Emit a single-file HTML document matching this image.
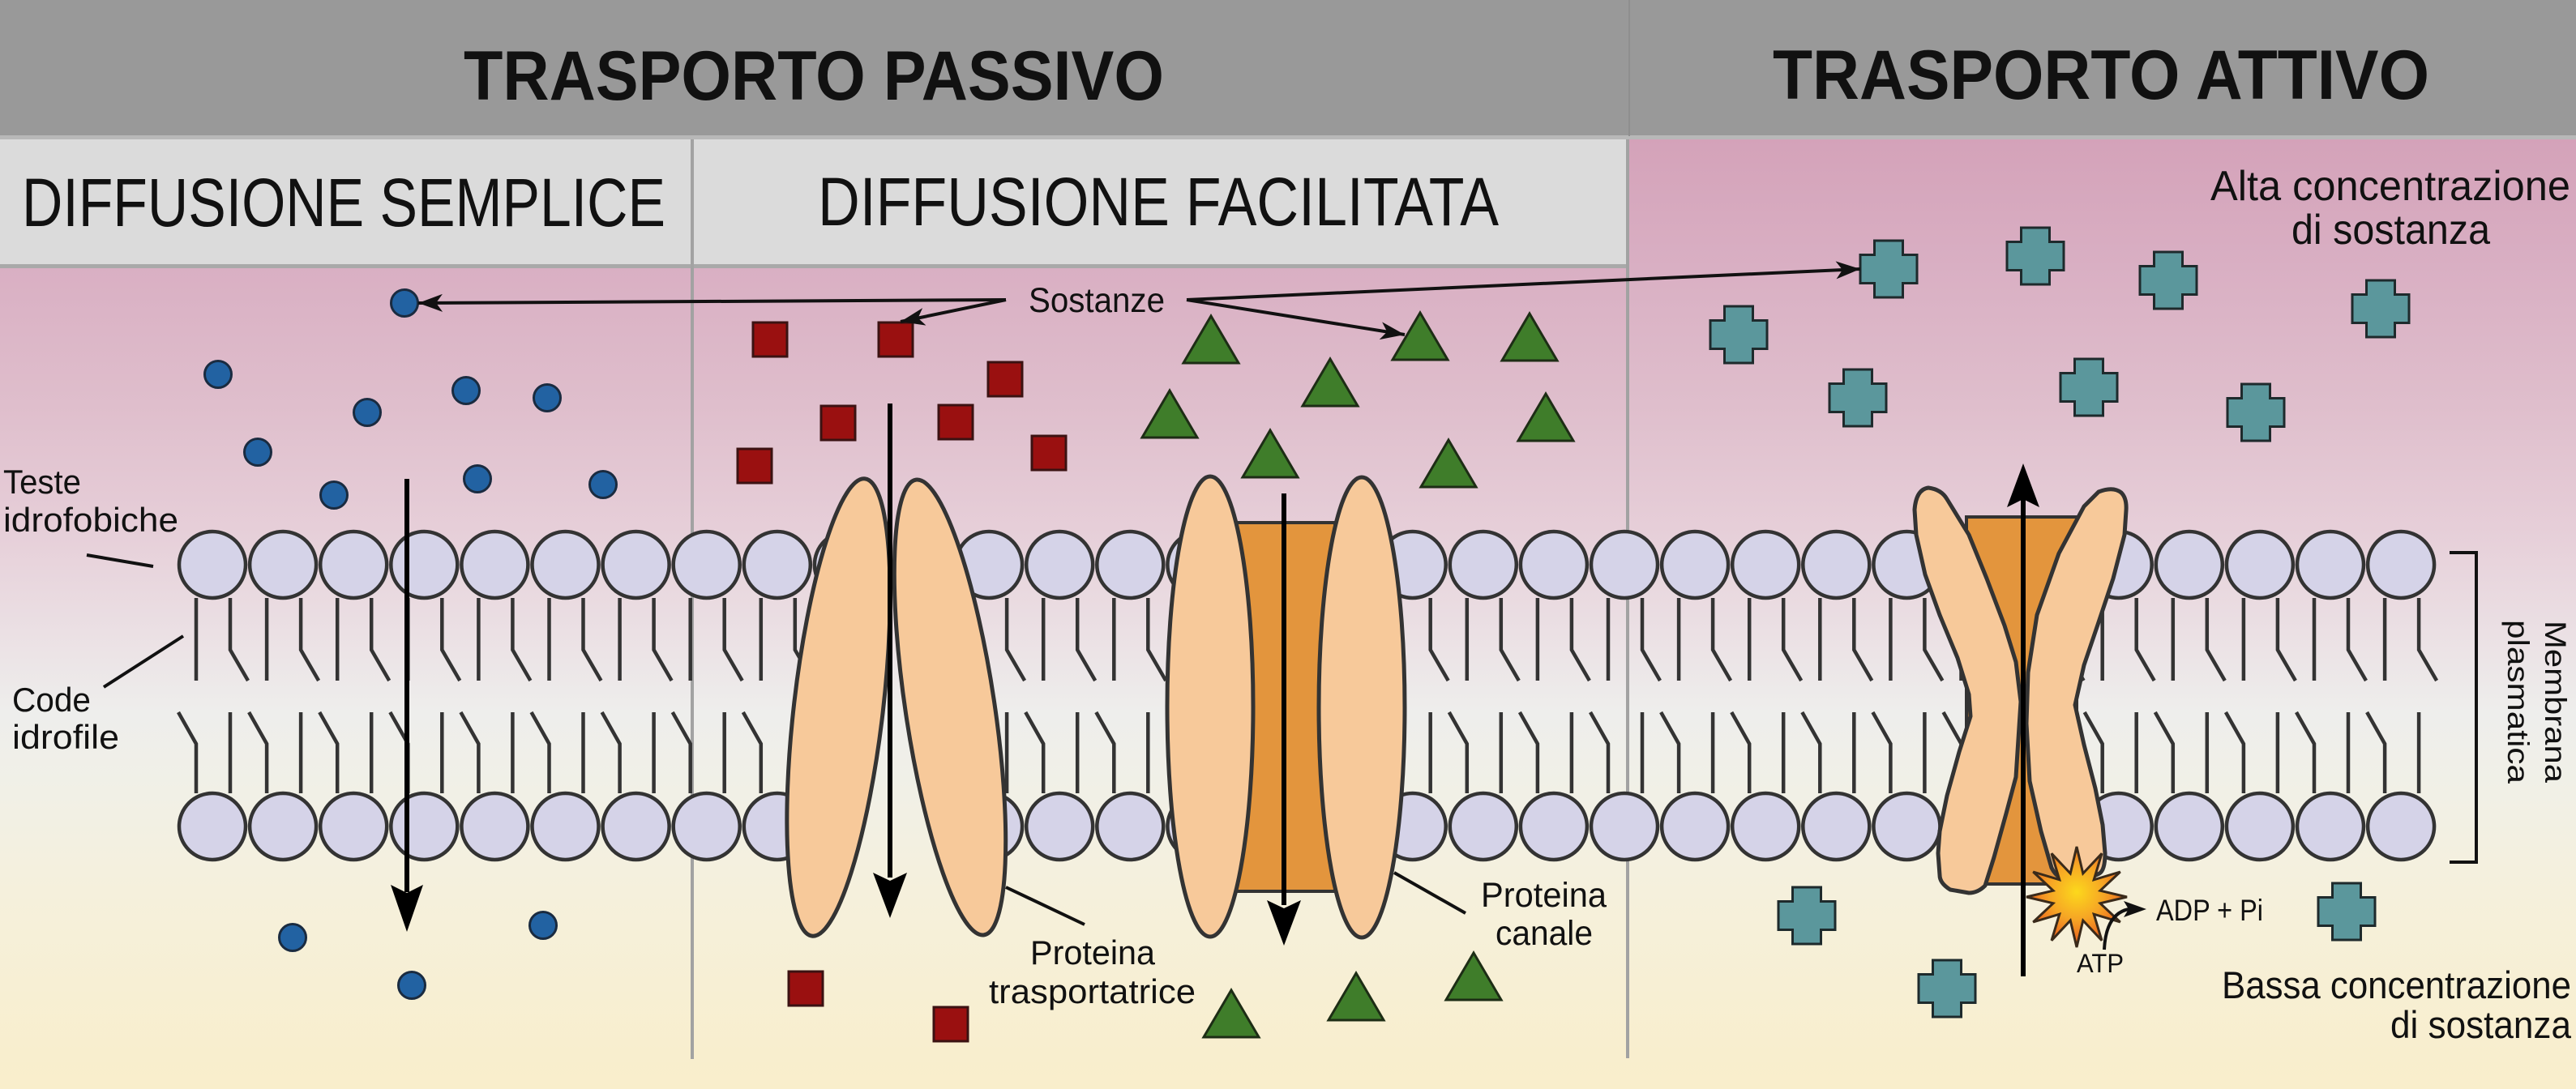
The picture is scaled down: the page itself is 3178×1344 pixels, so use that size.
<!DOCTYPE html>
<html><head><meta charset="utf-8">
<style>
html,body{margin:0;padding:0;width:3178px;height:1344px;overflow:hidden;background:#f5f0dc}
svg{display:block}
text{font-family:"Liberation Sans",sans-serif;fill:#111}
</style></head><body>
<svg width="3178" height="1344" viewBox="0 0 3178 1344" xmlns="http://www.w3.org/2000/svg">
<defs>
<linearGradient id="bg" x1="0" y1="170" x2="0" y2="1344" gradientUnits="userSpaceOnUse">
<stop offset="0" stop-color="#d4a2b9"/>
<stop offset="0.136" stop-color="#d9afc3"/>
<stop offset="0.281" stop-color="#dfbecc"/>
<stop offset="0.409" stop-color="#e6ced8"/>
<stop offset="0.52" stop-color="#ebe0e4"/>
<stop offset="0.605" stop-color="#eeeeec"/>
<stop offset="0.69" stop-color="#f1f0e6"/>
<stop offset="0.792" stop-color="#f5f0dc"/>
<stop offset="1" stop-color="#f9eecb"/>
</linearGradient>
<radialGradient id="star" cx="0.5" cy="0.45" r="0.55">
<stop offset="0" stop-color="#fcd81c"/>
<stop offset="0.5" stop-color="#f6a525"/>
<stop offset="1" stop-color="#e6541c"/>
</radialGradient>
<marker id="ah" markerWidth="30" markerHeight="22" refX="30" refY="11" orient="auto" markerUnits="userSpaceOnUse"><path d="M0,0 L30,11 L0,22 L8,11 z" fill="#111"/></marker>
<g id="up">
<path d="M-20,738V840 M22,738V802L44,840" stroke="#333" stroke-width="4.5" fill="none"/>
<circle cx="0" cy="697" r="41" fill="#d5d3e8" stroke="#333" stroke-width="4.5"/>
</g>
<g id="lo">
<path d="M-42,879L-20,918V979 M22,879V979" stroke="#333" stroke-width="4.5" fill="none"/>
<circle cx="0" cy="1020" r="41" fill="#d5d3e8" stroke="#333" stroke-width="4.5"/>
</g>
<polygon id="cr" points="-17.5,-35 17.5,-35 17.5,-17.5 35,-17.5 35,17.5 17.5,17.5 17.5,35 -17.5,35 -17.5,17.5 -35,17.5 -35,-17.5 -17.5,-17.5" fill="#5b979c" stroke="#1e2a2c" stroke-width="3"/>
</defs>

<!-- background -->
<rect x="0" y="0" width="3178" height="1344" fill="url(#bg)"/>
<rect x="0" y="0" width="3178" height="168" fill="#999999"/>
<rect x="0" y="167" width="3178" height="5" fill="#b8b8b8"/>
<line x1="2010" y1="0" x2="2010" y2="168" stroke="#8f8f8f" stroke-width="2"/>
<rect x="0" y="172" width="2008" height="156" fill="#dbdbdb"/>
<rect x="0" y="326" width="2008" height="5" fill="#a9a9a9"/>

<!-- dividers -->
<line x1="854" y1="172" x2="854" y2="1307" stroke="#a2a2a2" stroke-width="4"/>
<line x1="2008" y1="172" x2="2008" y2="1306" stroke="#a2a2a2" stroke-width="4"/>

<!-- headers -->
<text x="572" y="123" font-size="86" font-weight="bold" textLength="864" lengthAdjust="spacingAndGlyphs">TRASPORTO PASSIVO</text>
<text x="2187" y="122" font-size="86" font-weight="bold" textLength="810" lengthAdjust="spacingAndGlyphs">TRASPORTO ATTIVO</text>
<text x="27" y="279" font-size="84" textLength="794" lengthAdjust="spacingAndGlyphs">DIFFUSIONE SEMPLICE</text>
<text x="1009" y="278" font-size="84" textLength="840" lengthAdjust="spacingAndGlyphs">DIFFUSIONE FACILITATA</text>

<!-- blue dots -->
<g fill="#2262a2" stroke="#1a2b40" stroke-width="3">
<circle cx="499" cy="374" r="16.5"/><circle cx="269" cy="462" r="16.5"/><circle cx="575" cy="482" r="16.5"/>
<circle cx="675" cy="491" r="16.5"/><circle cx="453" cy="509" r="16.5"/><circle cx="318" cy="558" r="16.5"/>
<circle cx="412" cy="611" r="16.5"/><circle cx="589" cy="591" r="16.5"/><circle cx="744" cy="598" r="16.5"/>
<circle cx="361" cy="1157" r="16.5"/><circle cx="670" cy="1142" r="16.5"/><circle cx="508" cy="1216" r="16.5"/>
</g>

<!-- red squares -->
<g fill="#9a1010" stroke="#3b1212" stroke-width="3">
<rect x="929" y="398" width="42" height="42"/><rect x="1084" y="398" width="42" height="42"/>
<rect x="1219" y="447" width="42" height="42"/><rect x="1013" y="501" width="42" height="42"/>
<rect x="1158" y="500" width="42" height="42"/><rect x="1273" y="538" width="42" height="42"/>
<rect x="910" y="554" width="42" height="42"/><rect x="973" y="1199" width="42" height="42"/>
<rect x="1152" y="1243" width="42" height="42"/>
</g>

<!-- green triangles -->
<g fill="#3f7d2a" stroke="#1d2d15" stroke-width="3" stroke-linejoin="miter">
<polygon points="1460,448 1528,448 1494,390"/>
<polygon points="1718,444 1786,444 1752,386"/>
<polygon points="1853,445 1921,445 1887,387"/>
<polygon points="1607,501 1675,501 1641,443"/>
<polygon points="1409,540 1477,540 1443,482"/>
<polygon points="1873,544 1941,544 1907,486"/>
<polygon points="1533,589 1601,589 1567,531"/>
<polygon points="1753,601 1821,601 1787,543"/>
<polygon points="1485,1280 1553,1280 1519,1222"/>
<polygon points="1639,1259 1707,1259 1673,1201"/>
<polygon points="1784,1234 1852,1234 1818,1176"/>
</g>

<!-- teal crosses -->
<use href="#cr" x="2330" y="332"/><use href="#cr" x="2511" y="316"/><use href="#cr" x="2145" y="413"/>
<use href="#cr" x="2292" y="491"/><use href="#cr" x="2577" y="478"/><use href="#cr" x="2675" y="346"/>
<use href="#cr" x="2937" y="381"/><use href="#cr" x="2783" y="509"/><use href="#cr" x="2229" y="1130"/>
<use href="#cr" x="2402" y="1220"/><use href="#cr" x="2895" y="1125"/>

<!-- membrane lipids -->
<use href="#up" x="262"/><use href="#lo" x="262"/>
<use href="#up" x="349.1"/><use href="#lo" x="349.1"/>
<use href="#up" x="436.2"/><use href="#lo" x="436.2"/>
<use href="#up" x="523.3"/><use href="#lo" x="523.3"/>
<use href="#up" x="610.4"/><use href="#lo" x="610.4"/>
<use href="#up" x="697.5"/><use href="#lo" x="697.5"/>
<use href="#up" x="784.6"/><use href="#lo" x="784.6"/>
<use href="#up" x="871.7"/><use href="#lo" x="871.7"/>
<use href="#up" x="958.8"/><use href="#lo" x="958.8"/>
<use href="#up" x="1045.9"/>
<use href="#up" x="1220.1"/><use href="#lo" x="1220.1"/>
<use href="#up" x="1307.2"/><use href="#lo" x="1307.2"/>
<use href="#up" x="1394.3"/><use href="#lo" x="1394.3"/>
<use href="#up" x="1481.4"/><use href="#lo" x="1481.4"/>
<use href="#up" x="1568.5"/><use href="#lo" x="1568.5"/>
<use href="#up" x="1655.6"/><use href="#lo" x="1655.6"/>
<use href="#up" x="1742.7"/><use href="#lo" x="1742.7"/>
<use href="#up" x="1829.8"/><use href="#lo" x="1829.8"/>
<use href="#up" x="1916.9"/><use href="#lo" x="1916.9"/>
<use href="#up" x="2004"/><use href="#lo" x="2004"/>
<use href="#up" x="2091.1"/><use href="#lo" x="2091.1"/>
<use href="#up" x="2178.2"/><use href="#lo" x="2178.2"/>
<use href="#up" x="2265.3"/><use href="#lo" x="2265.3"/>
<use href="#up" x="2352.4"/><use href="#lo" x="2352.4"/>
<use href="#up" x="2439.5"/><use href="#lo" x="2439.5"/>
<use href="#up" x="2526.6"/><use href="#lo" x="2526.6"/>
<use href="#up" x="2613.7"/><use href="#lo" x="2613.7"/>
<use href="#up" x="2700.8"/><use href="#lo" x="2700.8"/>
<use href="#up" x="2787.9"/><use href="#lo" x="2787.9"/>
<use href="#up" x="2875"/><use href="#lo" x="2875"/>
<use href="#up" x="2962.1"/><use href="#lo" x="2962.1"/>

<!-- carrier protein -->
<g fill="#f7c99a" stroke="#333" stroke-width="5">
<ellipse cx="1034.5" cy="873" rx="55" ry="284" transform="rotate(6.6 1034.5 873)"/>
<ellipse cx="1172" cy="873" rx="55" ry="284" transform="rotate(-8.5 1172 873)"/>
</g>

<!-- channel protein -->
<rect x="1524" y="645" width="123" height="455" fill="#e3953d" stroke="#333" stroke-width="4"/>
<g fill="#f7c99a" stroke="#333" stroke-width="5">
<ellipse cx="1493" cy="872" rx="53" ry="284"/>
<ellipse cx="1680" cy="873" rx="53" ry="284"/>
</g>

<!-- active transporter -->
<rect x="2426" y="638" width="136" height="453" fill="#e3953d" stroke="#333" stroke-width="4"/>
<g fill="#f7c99a" stroke="#333" stroke-width="5" stroke-linejoin="round">
<path d="M2362,629 Q2364,604 2379,602 Q2395,604 2402,616 L2429,660 L2451,714 L2473,772 L2487,817 L2493,866 L2487,959 L2475,1004 L2460,1058 L2449,1093 Q2440,1102 2429,1102 L2406,1098 Q2393,1090 2393,1080 L2391,1053 L2393,1026 L2402,982 L2417,928 L2431,884 L2429,857 L2415,812 L2393,759 L2375,709 L2364,660 Z"/>
<path d="M2589,607 Q2607,600 2617,608 Q2624,615 2623,630 L2621,660 L2607,714 L2589,768 L2571,821 L2560,870 L2571,919 L2585,973 L2594,1018 L2597,1053 Q2597,1074 2590,1078 L2571,1087 L2549,1087 Q2537,1083 2531,1071 L2518,1026 L2504,964 L2500,893 L2502,830 L2513,759 L2540,683 L2571,625 Z"/>
</g>

<!-- starburst -->
<polygon points="2562,1045 2569.8,1078 2593,1053.3 2583.2,1085.8 2615.7,1076 2591,1099.2 2624,1107 2591,1114.8 2615.7,1138 2583.2,1128.2 2593,1160.7 2569.8,1136 2562,1169 2554.2,1136 2531,1160.7 2540.8,1128.2 2508.3,1138 2533,1114.8 2500,1107 2533,1099.2 2508.3,1076 2540.8,1085.8 2531,1053.3 2554.2,1078" fill="url(#star)" stroke="#3a2a1a" stroke-width="3" stroke-linejoin="miter"/>

<!-- big arrows -->
<g fill="#000" stroke="none">
<rect x="499" y="591" width="6" height="510"/>
<polygon points="482,1092 502,1102 522,1092 502,1150"/>
<rect x="1095" y="498" width="6" height="585"/>
<polygon points="1077,1077 1098,1087 1119,1077 1098,1133"/>
<rect x="1581" y="609" width="6" height="508"/>
<polygon points="1563,1111 1584,1121 1605,1111 1584,1167"/>
<rect x="2493" y="615" width="6" height="590"/>
<polygon points="2476,626 2496,616 2516,626 2496,572"/>
</g>

<!-- ATP -> ADP arrow -->
<path d="M2596,1172 Q2598,1128 2626,1122" fill="none" stroke="#111" stroke-width="4"/>
<polygon points="2620,1112 2648,1122 2620,1132 2626,1122" fill="#111"/>

<!-- Sostanze pointer lines -->
<g stroke="#111" stroke-width="4" fill="none" marker-end="url(#ah)">
<line x1="1241" y1="370" x2="516" y2="374"/>
<line x1="1241" y1="370" x2="1111" y2="397"/>
<line x1="1464" y1="370" x2="1733" y2="413"/>
<line x1="1464" y1="370" x2="2295" y2="332"/>
</g>

<!-- leader lines -->
<g stroke="#111" stroke-width="4">
<line x1="107" y1="685" x2="189" y2="699"/>
<line x1="226" y1="785" x2="128" y2="848"/>
<line x1="1241" y1="1095" x2="1338" y2="1141"/>
<line x1="1720" y1="1077" x2="1808" y2="1127"/>
</g>

<!-- bracket -->
<path d="M3022,682 H3055 V1064 H3022" fill="none" stroke="#111" stroke-width="4"/>

<!-- labels -->
<text x="1269" y="385" font-size="43" textLength="168" lengthAdjust="spacingAndGlyphs">Sostanze</text>
<text x="4" y="609" font-size="42" textLength="96" lengthAdjust="spacingAndGlyphs">Teste</text>
<text x="4" y="656" font-size="42" textLength="216" lengthAdjust="spacingAndGlyphs">idrofobiche</text>
<text x="15" y="878" font-size="42" textLength="97" lengthAdjust="spacingAndGlyphs">Code</text>
<text x="15" y="924" font-size="42" textLength="132" lengthAdjust="spacingAndGlyphs">idrofile</text>
<text x="1271" y="1190" font-size="42" textLength="154" lengthAdjust="spacingAndGlyphs">Proteina</text>
<text x="1220" y="1238" font-size="42" textLength="255" lengthAdjust="spacingAndGlyphs">trasportatrice</text>
<text x="1827" y="1119" font-size="43" textLength="155" lengthAdjust="spacingAndGlyphs">Proteina</text>
<text x="1845" y="1166" font-size="43" textLength="120" lengthAdjust="spacingAndGlyphs">canale</text>
<text x="2727" y="247" font-size="52" textLength="444" lengthAdjust="spacingAndGlyphs">Alta concentrazione</text>
<text x="2827" y="301" font-size="52" textLength="245" lengthAdjust="spacingAndGlyphs">di sostanza</text>
<text x="2741" y="1232" font-size="47" textLength="431" lengthAdjust="spacingAndGlyphs">Bassa concentrazione</text>
<text x="2949" y="1281" font-size="47" textLength="223" lengthAdjust="spacingAndGlyphs">di sostanza</text>
<text x="2660" y="1136" font-size="37" textLength="132" lengthAdjust="spacingAndGlyphs">ADP + Pi</text>
<text x="2562" y="1200" font-size="32" textLength="58" lengthAdjust="spacingAndGlyphs">ATP</text>
<text transform="translate(3140,866) rotate(90)" text-anchor="middle" font-size="37" textLength="200" lengthAdjust="spacingAndGlyphs">Membrana</text>
<text transform="translate(3094,866) rotate(90)" text-anchor="middle" font-size="37" textLength="202" lengthAdjust="spacingAndGlyphs">plasmatica</text>
</svg>
</body></html>
